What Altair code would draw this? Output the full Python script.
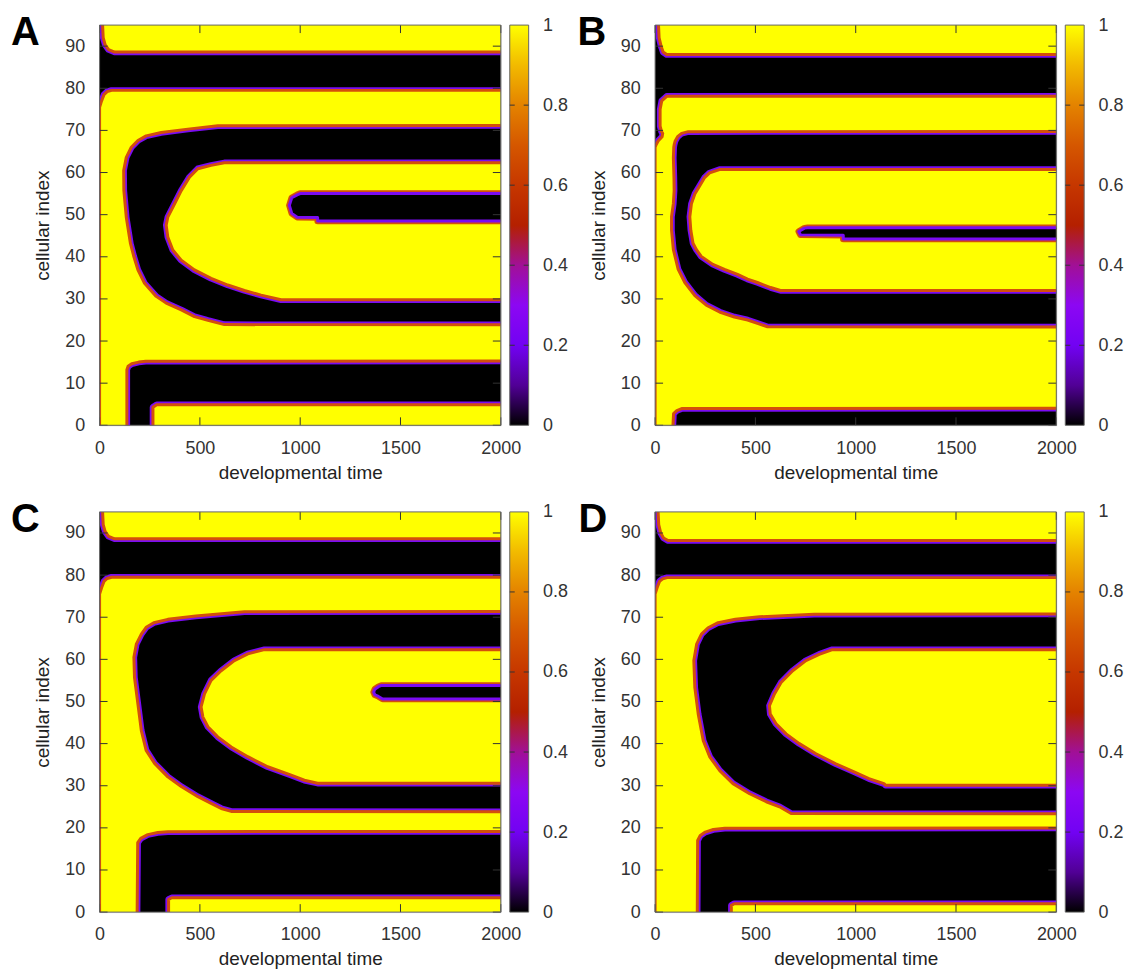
import altair as alt
import pandas as pd

# ---------------- axis / colour constants ----------------
TIME_TICKS = [0, 500, 1000, 1500, 2000]
CELL_TICKS = [0, 10, 20, 30, 40, 50, 60, 70, 80, 90]
CB_TICKS = [0, 0.2, 0.4, 0.6, 0.8, 1]
T_RANGE = [0, 2000]
C_RANGE = [0, 95]
Z_RANGE = [0, 1]
# gnuplot default pm3d palette (rgbformulae 7,5,15) at 0, 0.1, ..., 1
PALETTE = ["#000000", "#510096", "#7202f3", "#8c07f3", "#a11096", "#b42000",
           "#c63700", "#d55700", "#e48300", "#f2ba00", "#ffff00"]
PALETTE_POS = [0, 0.1, 0.2, 0.3, 0.4, 0.5, 0.6, 0.7, 0.8, 0.9, 1.0]
YELLOW = "#ffff00"
BLACK = "#000000"
PURPLE = "#7a0cf2"
ORANGE = "#d4500a"

# ------------- region outlines -------------
# each tuple: (cell index, left time, right time); 2050 / -1 / 96 lie just outside the frame
A_Y1 = [(-1, 0, 136), (13.2, 0, 136), (14.0, 0, 142), (14.6, 0, 160), (15.0, 0, 195),
        (15.2, 0, 230), (15.25, 0, 2050), (23.85, 0, 2050), (23.9, 0, 622), (24.9, 0, 540),
        (25.8, 0, 473), (27.4, 0, 407), (29.0, 0, 332), (30.6, 0, 282), (33.7, 0, 224),
        (36.9, 0, 191), (40.0, 0, 171), (43.1, 0, 154), (49.4, 0, 133), (55.7, 0, 121),
        (60.5, 0, 120), (63.6, 0, 133), (66.0, 0, 158), (67.6, 0, 191), (68.7, 0, 232),
        (69.5, 0, 307), (70.3, 0, 440), (71.1, 0, 589), (71.15, 0, 2050), (75.5, 0, 2050),
        (77.0, 10, 2050), (78.5, 22, 2050), (79.2, 38, 2050), (79.5, 60, 2050)]
A_Y2 = [(-1, 266, 2050), (4.3, 266, 2050), (4.9, 285, 2050)]
A_Y3 = [(29.8, 905, 2050), (30.9, 805, 2050), (32.0, 722, 2050), (33.3, 639, 2050),
        (34.9, 556, 2050), (36.9, 473, 2050), (39.2, 407, 2050), (41.6, 365, 2050),
        (44.7, 340, 2050), (47.5, 332, 2050), (49.4, 340, 2050), (52.6, 374, 2050),
        (55.7, 407, 2050), (58.9, 448, 2050), (60.9, 490, 2050), (61.7, 556, 2050),
        (62.3, 622, 2050)]
A_Y4 = [(88.6, 75, 2050), (89.2, 45, 2050), (90.3, 28, 2050), (92.0, 18, 2050), (96, 14, 2050)]
A_B1 = [(48.5, 1087, 2050), (49.3, 1087, 2050), (49.4, 985, 2050), (50.3, 958, 2050),
        (52.2, 946, 2050), (54.0, 958, 2050), (54.7, 985, 2050), (55.0, 1000, 2050)]

B_Y1 = [(-1, 0, 88), (2.8, 0, 92), (3.5, 0, 108), (4.0, 0, 135), (4.05, 0, 2050),
        (23.35, 0, 2050), (23.4, 0, 560), (24.2, 0, 510), (25.0, 0, 461), (25.7, 0, 395),
        (26.9, 0, 321), (28.5, 0, 255), (30.8, 0, 198), (33.9, 0, 148), (37.0, 0, 115),
        (41.7, 0, 91), (46.3, 0, 82), (49.5, 0, 82), (52.6, 0, 91), (55.7, 0, 95),
        (58.8, 0, 94), (63.5, 0, 91), (66.0, 0, 93), (66.6, 5, 95), (67.5, 15, 100),
        (68.5, 35, 112), (69.3, 38, 132), (69.7, 32, 165), (69.75, 32, 2050), (71.0, 25, 2050),
        (75.0, 25, 2050), (77.0, 33, 2050), (78.1, 58, 2050)]
B_Y3 = [(32.0, 625, 2050), (32.7, 576, 2050), (33.9, 510, 2050), (34.7, 461, 2050),
        (35.8, 411, 2050), (37.0, 346, 2050), (38.2, 288, 2050), (40.1, 230, 2050),
        (41.7, 206, 2050), (43.2, 189, 2050), (46.3, 178, 2050), (49.5, 173, 2050),
        (52.6, 181, 2050), (54.9, 198, 2050), (56.8, 222, 2050), (58.8, 247, 2050),
        (59.9, 272, 2050), (60.7, 321, 2050)]
B_Y4 = [(88.0, 58, 2050), (88.6, 40, 2050), (90.0, 30, 2050), (92.0, 20, 2050), (96, 16, 2050)]
B_B1 = [(44.2, 938, 2050), (45.1, 938, 2050), (45.2, 725, 2050), (46.0, 716, 2050),
        (46.8, 745, 2050), (46.9, 760, 2050)]

C_Y1 = [(-1, 0, 187), (16.5, 0, 190), (17.5, 0, 205), (18.4, 0, 240), (18.9, 0, 290),
        (19.1, 0, 340), (19.15, 0, 2050), (23.85, 0, 2050), (23.9, 0, 656), (24.6, 0, 606),
        (25.8, 0, 556), (27.4, 0, 490), (29.8, 0, 407), (32.1, 0, 340), (35.3, 0, 274),
        (38.4, 0, 232), (43.1, 0, 208), (49.4, 0, 191), (55.7, 0, 174), (60.5, 0, 171),
        (63.6, 0, 183), (66.0, 0, 208), (67.6, 0, 232), (68.7, 0, 270), (69.5, 0, 340),
        (70.3, 0, 480), (71.3, 0, 722), (71.35, 0, 2050), (75.5, 0, 2050), (77.0, 10, 2050),
        (78.5, 22, 2050), (79.2, 38, 2050), (79.5, 60, 2050)]
C_Y2 = [(-1, 344, 2050), (3.0, 344, 2050), (3.4, 360, 2050)]
C_Y3 = [(30.6, 1087, 2050), (31.3, 1021, 2050), (32.5, 955, 2050), (34.5, 838, 2050),
        (36.9, 739, 2050), (39.2, 656, 2050), (41.6, 589, 2050), (44.0, 540, 2050),
        (46.3, 515, 2050), (48.7, 506, 2050), (51.8, 523, 2050), (55.0, 556, 2050),
        (57.3, 606, 2050), (59.7, 672, 2050), (61.3, 739, 2050), (62.3, 822, 2050)]
C_Y4 = [(88.6, 75, 2050), (89.2, 45, 2050), (90.3, 28, 2050), (92.0, 18, 2050), (96, 14, 2050)]
C_B1 = [(50.6, 1411, 2050), (51.2, 1390, 2050), (51.6, 1372, 2050), (52.2, 1366, 2050),
        (52.9, 1372, 2050), (53.5, 1390, 2050), (53.8, 1405, 2050)]

D_Y1 = [(-1, 0, 210), (17.0, 0, 212), (18.2, 0, 225), (19.0, 0, 250), (19.6, 0, 290),
        (19.9, 0, 347), (19.95, 0, 2050), (23.35, 0, 2050), (23.4, 0, 678), (25.0, 0, 620),
        (26.2, 0, 554), (28.1, 0, 471), (30.5, 0, 388), (33.6, 0, 322), (36.8, 0, 273),
        (40.7, 0, 240), (47.0, 0, 215), (53.3, 0, 198), (59.7, 0, 193), (63.6, 0, 207),
        (66.0, 0, 231), (67.5, 0, 264), (68.7, 0, 314), (69.5, 0, 400), (70.1, 0, 520),
        (70.7, 0, 793), (70.75, 0, 2050), (75.5, 0, 2050), (77.0, 10, 2050), (78.5, 22, 2050),
        (79.1, 38, 2050), (79.4, 60, 2050)]
D_Y2 = [(-1, 380, 2050), (1.6, 380, 2050), (2.0, 395, 2050)]
D_Y3 = [(30.1, 1149, 2050), (30.5, 1141, 2050), (31.7, 1066, 2050), (33.3, 992, 2050),
        (35.2, 901, 2050), (37.6, 802, 2050), (40.0, 719, 2050), (42.3, 653, 2050),
        (44.7, 603, 2050), (47.0, 574, 2050), (49.0, 570, 2050), (51.8, 595, 2050),
        (54.5, 628, 2050), (57.3, 686, 2050), (59.7, 752, 2050), (61.2, 818, 2050),
        (62.3, 884, 2050)]
D_Y4 = [(88.2, 65, 2050), (88.8, 42, 2050), (90.0, 28, 2050), (92.0, 18, 2050), (96, 14, 2050)]

PANELS = [
    ("A", [A_Y1, A_Y2, A_Y3, A_Y4], [A_B1], -89),
    ("B", [B_Y1, B_Y3, B_Y4], [B_B1], -78),
    ("C", [C_Y1, C_Y2, C_Y3, C_Y4], [C_B1], -89),
    ("D", [D_Y1, D_Y2, D_Y3, D_Y4], [], -77),
]

W, H = 403, 402
FONT = "Liberation Sans"
CB_GAP, CB_W = 9, 19


def shapes_df(shapes):
    rows = []
    for i, s in enumerate(shapes):
        for c, tl, tr in s:
            rows.append({"sid": i, "c": c, "t": tl, "t2": tr})
    return pd.DataFrame(rows)


xs = alt.Scale(domain=T_RANGE, nice=False, zero=False)
ys = alt.Scale(domain=C_RANGE, nice=False, zero=False)
zs = alt.Scale(domain=Z_RANGE, nice=False, zero=False)

common_axis = dict(labelFontSize=18, titleFontSize=19, titleFontWeight="normal",
                   labelColor="#333", titleColor="#222", ticks=False, tickSize=0,
                   domain=False, grid=False, labelFlush=False, labelFont=FONT, titleFont=FONT)
xaxis = alt.Axis(values=TIME_TICKS, title="developmental time", labelPadding=14,
                 titlePadding=6, format="d", **common_axis)
yaxis = alt.Axis(values=CELL_TICKS, title="cellular index", labelPadding=15,
                 titlePadding=12, format="d", orient="left", **common_axis)
zaxis = alt.Axis(values=CB_TICKS, title="", labelPadding=14, offset=CB_GAP + CB_W,
                 format="~g", orient="right", labelBaseline="middle", **common_axis)

gradient = alt.LinearGradient(
    gradient="linear", x1=0, y1=1, x2=0, y2=0,
    stops=[alt.GradientStop(color=c, offset=o) for c, o in zip(PALETTE, PALETTE_POS)])


def X(field="t:Q"):
    return alt.X(field, scale=xs, axis=xaxis)


def Y(field="c:Q"):
    return alt.Y(field, scale=ys, axis=yaxis)


def Z(field="z:Q"):
    return alt.Y(field, scale=zs, axis=zaxis)


def panel(letter, yellow, black, dx):
    frame_df = pd.DataFrame({"t": [T_RANGE[0]], "t2": [T_RANGE[1]],
                             "c": [C_RANGE[0]], "c2": [C_RANGE[1]]})
    layers = [alt.Chart(frame_df).mark_rect(fill=BLACK).encode(
        x=X(), x2="t2:Q", y=Y(), y2="c2:Q")]

    def areas(df, fill, stroke, width):
        return alt.Chart(df).mark_area(
            orient="horizontal", clip=True, fill=fill, stroke=stroke, strokeWidth=width,
            strokeJoin="round"
        ).encode(y=Y(), x=X(), x2="t2:Q", detail="sid:N")

    ydf = shapes_df(yellow)
    layers += [areas(ydf, YELLOW, PURPLE, 6.5), areas(ydf, YELLOW, ORANGE, 3)]
    if black:
        bdf = shapes_df(black)
        layers += [areas(bdf, BLACK, ORANGE, 6.5), areas(bdf, BLACK, PURPLE, 3)]

    xt = pd.DataFrame({"t": TIME_TICKS})
    yt = pd.DataFrame({"c": CELL_TICKS})
    tick_col = "#333"
    layers += [
        alt.Chart(xt).mark_rule(color=tick_col, strokeWidth=1).encode(
            x=X(), y=alt.value(0), y2=alt.value(8)),
        alt.Chart(xt).mark_rule(color=tick_col, strokeWidth=1).encode(
            x=X(), y=alt.value(H), y2=alt.value(H - 8)),
        alt.Chart(yt).mark_rule(color=tick_col, strokeWidth=1).encode(
            y=Y(), x=alt.value(0), x2=alt.value(8)),
        alt.Chart(yt).mark_rule(color=tick_col, strokeWidth=1).encode(
            y=Y(), x=alt.value(W - 8), x2=alt.value(W)),
        alt.Chart(frame_df).mark_rect(fillOpacity=0, stroke="#666", strokeWidth=1).encode(
            x=X(), x2="t2:Q", y=Y(), y2="c2:Q"),
        alt.Chart(pd.DataFrame({"label": [letter]})).mark_text(
            align="left", baseline="alphabetic", font=FONT, fontWeight="bold",
            fontSize=40, color="black").encode(
            x=alt.value(dx), y=alt.value(20), text="label:N"),
    ]
    heat = alt.layer(*layers)

    # colour bar: one rect with the palette gradient, on its own 0..1 scale
    cb_df = pd.DataFrame({"z": [Z_RANGE[0]], "z2": [Z_RANGE[1]]})
    zt = pd.DataFrame({"z": CB_TICKS[1:-1]})
    x0 = W + CB_GAP
    x1 = W + CB_GAP + CB_W
    cbar = alt.layer(
        alt.Chart(cb_df).mark_rect(fill=gradient, stroke="#666", strokeWidth=1).encode(
            y=Z(), y2="z2:Q", x=alt.value(x0), x2=alt.value(x1)),
        alt.Chart(zt).mark_rule(color=tick_col, strokeWidth=1).encode(
            y=Z(), x=alt.value(x0), x2=alt.value(x0 + 5)),
        alt.Chart(zt).mark_rule(color=tick_col, strokeWidth=1).encode(
            y=Z(), x=alt.value(x1 - 5), x2=alt.value(x1)),
    )
    return alt.layer(heat, cbar).resolve_scale(y="independent").properties(width=W, height=H)


charts = [panel(*p) for p in PANELS]
chart = alt.concat(*charts, columns=2, spacing={"row": 87, "column": 155},
                   bounds="flush").properties(
    padding={"left": 2, "top": 2, "right": 2, "bottom": 2}
).configure_view(strokeWidth=0).configure(font=FONT)

chart.save("out.html", embed_options={"renderer": "svg", "actions": False})
